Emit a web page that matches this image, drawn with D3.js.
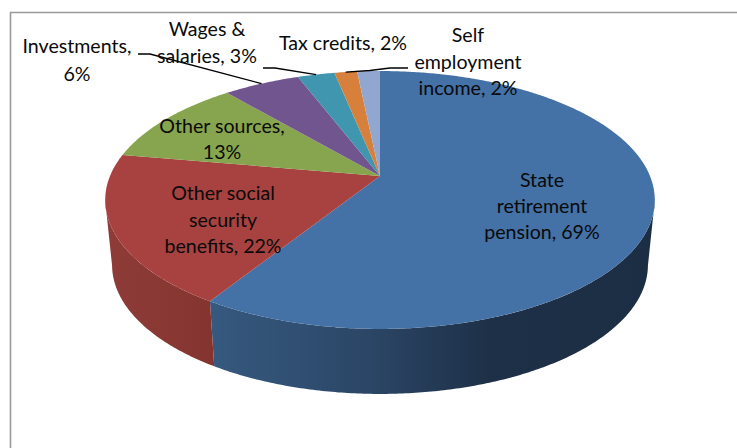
<!DOCTYPE html>
<html><head><meta charset="utf-8">
<script src="https://cdn.jsdelivr.net/npm/d3@7/dist/d3.min.js"></script>
<style>html,body{margin:0;padding:0;background:#fff;overflow:hidden}svg{display:block}text{font-family:Lato,"Open Sans",sans-serif;font-size:19.6px;fill:#0a0a0a}</style>
</head><body>
<script>
const categories=["State retirement pension","Other social security benefits","Other sources","Investments","Wages & salaries","Tax credits","Self employment income"];
const labelPercents=[69,22,13,6,3,2,2];
const sliceShares=[58.9,18.9,11.0,5.4,2.6,1.6,1.6];
const sliceColors=["#4471a6","#a74240","#87a44e","#71558f","#3f96ae","#d7803b","#92a7cf"];

const W=737,H=448;
const view={cx:380,cy:176,A:270,B:124.5,tilt:-0.186,depth:65,baseScale:0.975};
function project(theta,bottom){
  const u=Math.sin(theta),v=-Math.cos(theta),d=1+view.tilt*v,s=bottom?view.baseScale:1;
  return [view.cx+s*view.A*u/d,view.cy+(bottom?view.depth:0)+view.B*v/d];
}
function rim(a,b,bottom){
  const n=Math.max(2,Math.ceil(Math.abs(b-a)/0.01));
  return d3.range(n+1).map(i=>project(a+(b-a)*i/n,bottom));
}
const line=d3.line();
const svg=d3.select("body").append("svg").attr("width",W).attr("height",H);
const defs=svg.append("defs");
const color=d3.scaleOrdinal().domain(categories).range(sliceColors);
const arcs=d3.pie().sort(null).value(d=>d.share)(categories.map((name,i)=>({name,share:sliceShares[i],pct:labelPercents[i]})));

// frame
svg.append("path").attr("d","M10.5,448V12.5H737").attr("fill","none").attr("stroke","#9a9a9a").attr("stroke-width",1.6);

// side walls
const wallStops={0:[[211,"#36597f"],[370,"#2b4666"],[490,"#1d3047"],[655,"#1c2e44"]],1:[[104,"#8f3c39"],[215,"#84342f"]]};
const rad=Math.PI/180;
const wallRange={0:[101*rad,arcs[0].endAngle],1:[arcs[1].startAngle,259*rad]};
Object.keys(wallStops).forEach(k=>{
  const st=wallStops[k],x0=st[0][0],x1=st[st.length-1][0];
  const g=defs.append("linearGradient").attr("id","wall"+k).attr("gradientUnits","userSpaceOnUse").attr("x1",x0).attr("x2",x1).attr("y1",0).attr("y2",0);
  st.forEach(s=>g.append("stop").attr("offset",(s[0]-x0)/(x1-x0)).attr("stop-color",s[1]));
  const [a,b]=wallRange[k];
  svg.append("path").attr("d",line(rim(a,b,false).concat(rim(b,a,true)))+"Z").attr("fill",`url(#wall${k})`);
});

// top faces
svg.append("g").selectAll("path").data(arcs).join("path")
  .attr("d",d=>line([[view.cx,view.cy]].concat(rim(d.startAngle,d.endAngle,false)))+"Z")
  .attr("fill",d=>color(d.data.name));

// labels
const labelLines=[
  ["State","retirement",`pension, ${labelPercents[0]}%`],
  ["Other social","security",`benefits, ${labelPercents[1]}%`],
  ["Other sources,",`${labelPercents[2]}%`],
  ["Investments,",`${labelPercents[3]}%`],
  ["Wages &",`salaries, ${labelPercents[4]}%`],
  [`Tax credits, ${labelPercents[5]}%`],
  ["Self","employment",`income, ${labelPercents[6]}%`]
];
const labelPlace=[[542,187,26],[223,200,26.5],[222,133,26],[77,53,28],[207,36,27],[343,50,26],[468,42,26.5]];
const leaders=[{i:3,from:[[138,54],[150,54]]},{i:4,from:[[263,68],[275,68]]},{i:5,from:[[408,68],[390,68],[370,70.5]]}];
const leaderG=svg.append("g");
leaders.forEach(l=>{
  const d=arcs[l.i],end=project((d.startAngle+d.endAngle)/2,false);
  leaderG.append("path").attr("d",line(l.from.concat([end]))).attr("fill","none").attr("stroke","#000").attr("stroke-width",1.3);
});
labelLines.forEach((lines,i)=>{
  const [x,y,dy]=labelPlace[i];
  lines.forEach((t,j)=>svg.append("text").attr("x",x).attr("y",y+j*dy).attr("text-anchor","middle").text(t));
});
</script>
</body></html>
